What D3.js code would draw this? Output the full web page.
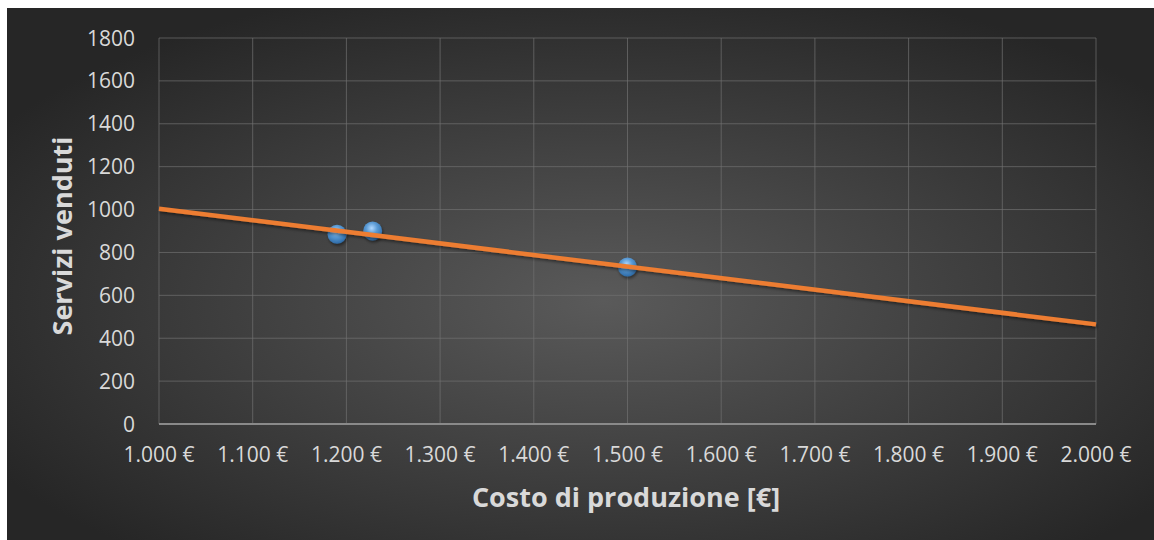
<!DOCTYPE html>
<html>
<head>
<meta charset="utf-8">
<script src="https://cdn.jsdelivr.net/npm/d3@7"></script>
<style>
  body { margin: 0; background: #fff; }
  svg { display: block; font-family: "Open Sans", sans-serif; }
</style>
</head>
<body>
<div id="chart"></div>
<script>
// data
var costs = [1190, 1228, 1500];
var sold = [885, 900, 732];
var xTicks = [1000, 1100, 1200, 1300, 1400, 1500, 1600, 1700, 1800, 1900, 2000];
var yTicks = [0, 200, 400, 600, 800, 1000, 1200, 1400, 1600, 1800];
var xTitle = "Costo di produzione [€]";
var yTitle = "Servizi venduti";

var width = 1154, height = 540;
var margin = {top: 38, right: 58, bottom: 116, left: 159};

var svg = d3.select("#chart").append("svg")
    .attr("width", width)
    .attr("height", height);

var defs = svg.append("defs");
var bg = defs.append("radialGradient")
    .attr("id", "bg")
    .attr("cx", "52%").attr("cy", "55%").attr("r", "62%");
bg.append("stop").attr("offset", "0%").attr("stop-color", "#5a5a5a");
bg.append("stop").attr("offset", "100%").attr("stop-color", "#262626");

var ball = defs.append("radialGradient")
    .attr("id", "ball")
    .attr("cx", "45%").attr("cy", "35%").attr("r", "65%");
ball.append("stop").attr("offset", "0%").attr("stop-color", "#b0d8ff");
ball.append("stop").attr("offset", "45%").attr("stop-color", "#5b9bd5");
ball.append("stop").attr("offset", "100%").attr("stop-color", "#2d6aa6");

var shadow = defs.append("filter").attr("id", "shadow")
    .attr("x", "-20%").attr("y", "-50%").attr("width", "140%").attr("height", "200%");
shadow.append("feDropShadow")
    .attr("dx", 1).attr("dy", 2).attr("stdDeviation", 1.5)
    .attr("flood-color", "#000").attr("flood-opacity", 0.45);

svg.append("rect")
    .attr("x", 7).attr("y", 8)
    .attr("width", width - 7).attr("height", height - 8)
    .attr("fill", "url(#bg)");

var x = d3.scaleLinear().domain([1000, 2000]).range([margin.left, width - margin.right]);
var y = d3.scaleLinear().domain([0, 1800]).range([height - margin.bottom, margin.top]);

var fmt = function (d) {
    return d3.format(",")(d).replace(",", ".") + " €";
};

// gridlines
svg.append("g").selectAll("line.h")
    .data(yTicks.slice(1))
    .enter().append("line")
    .attr("x1", x(1000)).attr("x2", x(2000))
    .attr("y1", function (d) { return y(d); })
    .attr("y2", function (d) { return y(d); })
    .attr("stroke", "#707070").attr("stroke-opacity", 0.7).attr("stroke-width", 1);

svg.append("g").selectAll("line.v")
    .data(xTicks)
    .enter().append("line")
    .attr("x1", function (d) { return x(d); })
    .attr("x2", function (d) { return x(d); })
    .attr("y1", y(0)).attr("y2", y(1800))
    .attr("stroke", "#707070").attr("stroke-opacity", 0.7).attr("stroke-width", 1);

// bottom axis line
svg.append("line")
    .attr("x1", x(1000)).attr("x2", x(2000))
    .attr("y1", y(0)).attr("y2", y(0))
    .attr("stroke", "#8a8a8a").attr("stroke-width", 2);

// tick labels
svg.append("g").selectAll("text")
    .data(yTicks)
    .enter().append("text")
    .attr("x", 135)
    .attr("y", function (d) { return y(d) + 7.5; })
    .attr("text-anchor", "end")
    .attr("fill", "#d9d9d9")
    .attr("font-size", 21)
    .text(function (d) { return d; });

svg.append("g").selectAll("text")
    .data(xTicks)
    .enter().append("text")
    .attr("x", function (d) { return x(d); })
    .attr("y", 462)
    .attr("text-anchor", "middle")
    .attr("fill", "#d9d9d9")
    .attr("font-size", 21)
    .text(fmt);

// titles
svg.append("text")
    .attr("x", 626).attr("y", 507)
    .attr("text-anchor", "middle")
    .attr("fill", "#d9d9d9")
    .attr("font-size", 27)
    .attr("font-weight", "bold")
    .text(xTitle);

svg.append("text")
    .attr("transform", "translate(72,236) rotate(-90)")
    .attr("text-anchor", "middle")
    .attr("fill", "#d9d9d9")
    .attr("font-size", 27)
    .attr("font-weight", "bold")
    .text(yTitle);

// points
svg.append("g").selectAll("circle")
    .data(costs)
    .enter().append("circle")
    .attr("cx", function (d) { return x(d); })
    .attr("cy", function (d, i) { return y(sold[i]); })
    .attr("r", 9.5)
    .attr("fill", "url(#ball)")
    .attr("filter", "url(#shadow)");

// linear trendline from the points
var mx = d3.mean(costs), my = d3.mean(sold);
var sxy = d3.sum(costs, function (d, i) { return (d - mx) * (sold[i] - my); });
var sxx = d3.sum(costs, function (d) { return (d - mx) * (d - mx); });
var slope = sxy / sxx, icpt = my - slope * mx;
var trend = [1000, 2000].map(function (d) { return [d, icpt + slope * d]; });

svg.append("path")
    .datum(trend)
    .attr("d", d3.line()
        .x(function (d) { return x(d[0]); })
        .y(function (d) { return y(d[1]); }))
    .attr("fill", "none")
    .attr("stroke", "#ed7d31")
    .attr("stroke-width", 4.5)
    .attr("filter", "url(#shadow)");
</script>
</body>
</html>
